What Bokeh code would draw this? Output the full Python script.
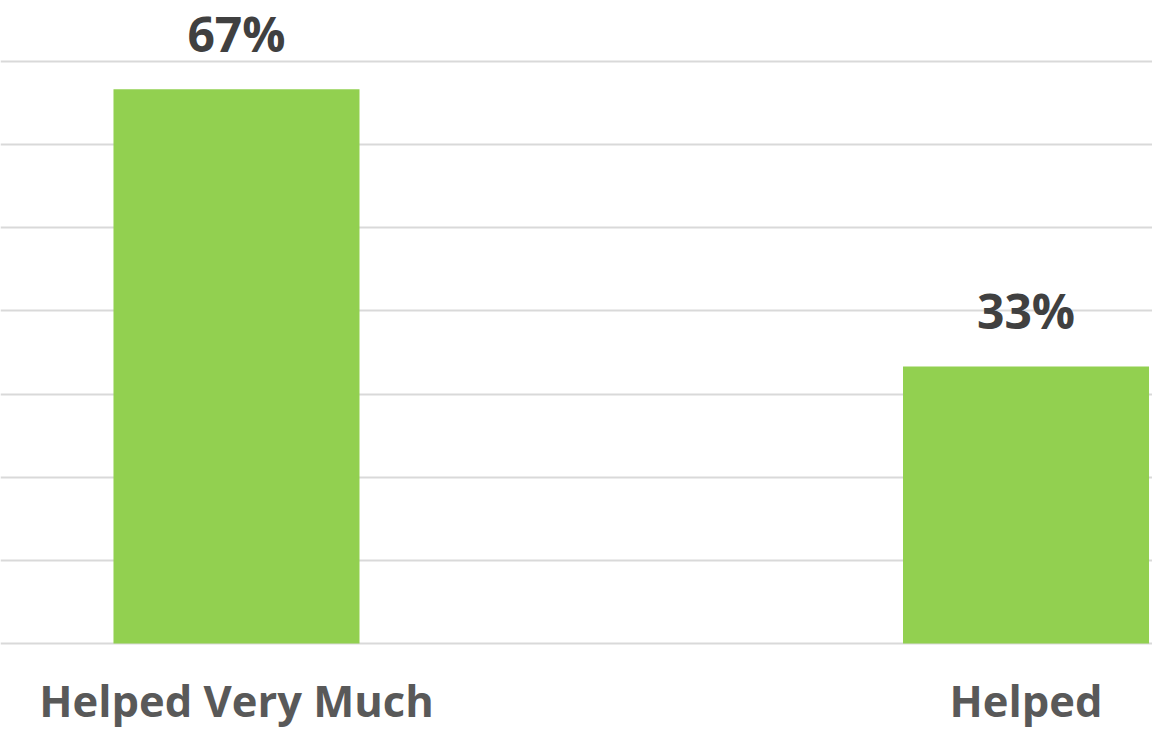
from bokeh.plotting import figure
from bokeh.models import Range1d, FixedTicker, ColumnDataSource
from bokeh.core.properties import value
from bokeh.embed import file_html
from bokeh.resources import INLINE

# ---- data ----
categories = ["Helped Very Much", "Helped"]
shares = [66.67, 33.33]
share_labels = ["67%", "33%"]
grid_ticks = [0, 10, 20, 30, 40, 50, 60, 70]

xpos = list(range(len(categories)))
src = ColumnDataSource(dict(x=xpos, top=shares, label=share_labels))

p = figure(
    width=1152, height=731,
    x_range=Range1d(-0.2989, 1.1602),
    y_range=Range1d(-10.58, 77.34),
    output_backend="svg", toolbar_location=None,
    y_axis_location=None,
    min_border_left=0, min_border_right=0, min_border_top=0, min_border_bottom=0,
)
p.outline_line_color = None
p.background_fill_color = "white"
p.border_fill_color = "white"

p.vbar(x="x", top="top", bottom=0, width=0.3116, source=src,
       fill_color="#92D050", line_color=None)

p.text(x="x", y="top", text="label", source=src,
       text_align="center", text_baseline="alphabetic", y_offset=-56,
       text_font=value("Open Sans"), text_font_style="bold",
       text_font_size="48px", text_color="#404040")

# grid
p.xgrid.visible = False
p.ygrid.ticker = FixedTicker(ticks=grid_ticks)
p.ygrid.grid_line_color = "#D9D9D9"
p.ygrid.grid_line_width = 2

# x axis with category labels, pinned at y = 0
ax = p.xaxis[0]
ax.fixed_location = 0
ax.ticker = FixedTicker(ticks=xpos)
ax.major_label_overrides = {i: c for i, c in zip(xpos, categories)}
ax.axis_line_color = None
ax.major_tick_line_color = None
ax.minor_tick_line_color = None
ax.major_tick_out = 0
ax.major_label_standoff = 27
ax.major_label_text_line_height = 1.0
ax.major_label_text_font = "Open Sans"
ax.major_label_text_font_style = "bold"
ax.major_label_text_font_size = "43.5px"
ax.major_label_text_color = "#595959"

open("out.html", "w").write(file_html(p, INLINE))
